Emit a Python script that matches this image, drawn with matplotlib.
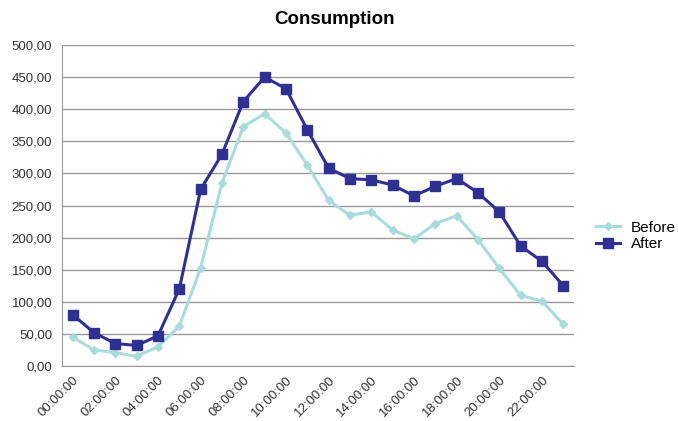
import matplotlib
matplotlib.use('Agg')
import matplotlib.pyplot as plt
from matplotlib.ticker import FuncFormatter, MultipleLocator

hours = ['%02d:00:00' % h for h in range(24)]
before = [45, 25, 21, 15, 30, 62, 153, 285, 373, 393, 363, 313,
          258, 235, 240, 212, 198, 222, 234, 197, 152, 110, 101, 65]
after = [80, 52, 35, 32, 47, 120, 275, 330, 412, 450, 432, 368,
         308, 292, 290, 282, 265, 280, 292, 270, 240, 187, 163, 125]

plt.rcParams['font.family'] = ['Liberation Sans', 'DejaVu Sans']

fig = plt.figure(figsize=(6.78, 4.21), dpi=100)
ax = fig.add_axes([0.0914, 0.1306, 0.7552, 0.7624])

x = list(range(len(hours)))
ax.plot(x, before, color='#a8dcdc', linewidth=2.2, marker='D', markersize=4.5,
        markeredgecolor='#a8dcdc', label='Before')
ax.plot(x, after, color='#2e3192', linewidth=2.2, marker='s', markersize=7,
        markeredgecolor='#2e3192', label='After')

ax.set_xlim(-0.5, len(hours) - 0.5)
ax.set_ylim(0, 500)
ax.yaxis.set_major_locator(MultipleLocator(50))
ax.yaxis.set_major_formatter(FuncFormatter(lambda v, p: ('%.2f' % v).replace('.', ',')))
ax.set_xticks(x[::2])
ax.set_xticklabels(hours[::2], rotation=45, ha='right', rotation_mode='anchor')
ax.tick_params(axis='both', length=0, labelsize=9.5, colors='#333333', pad=7)
ax.tick_params(axis='x', pad=6)

ax.grid(axis='y', color='#999999', linewidth=1)
ax.set_axisbelow(True)
for s in ['top', 'right']:
    ax.spines[s].set_visible(False)
for s in ['left', 'bottom']:
    ax.spines[s].set_color('#999999')

fig.text(0.494, 0.953, 'Consumption', ha='center', va='center',
         fontsize=13.5, fontweight='bold')

ax.legend(loc='center left', bbox_to_anchor=(0.87, 0.44), bbox_transform=fig.transFigure,
          frameon=False, fontsize=11, handlelength=1.6, handletextpad=0.7,
          labelspacing=0.15, borderaxespad=0)

fig.savefig('out.png', dpi=100)
